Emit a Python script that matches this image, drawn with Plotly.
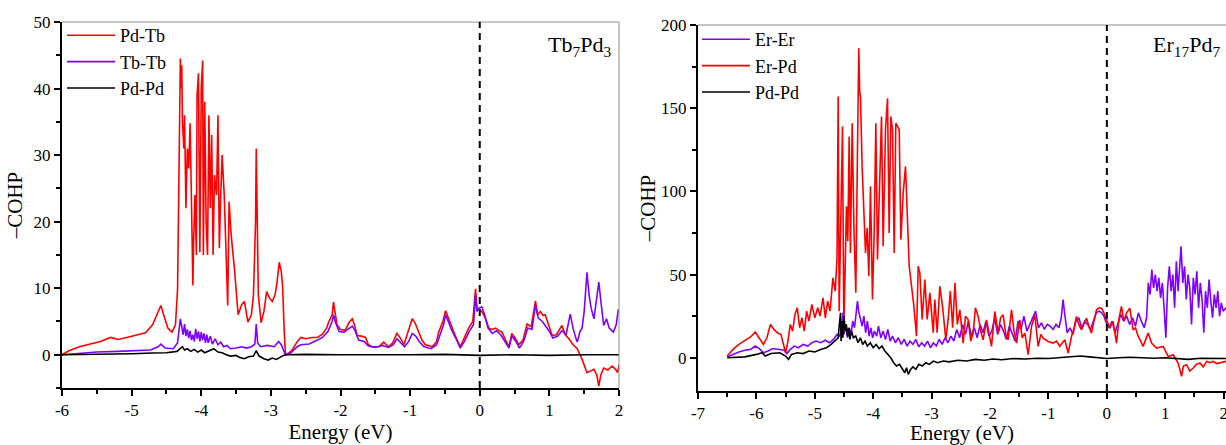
import plotly.graph_objects as go

# ---------------- data: left panel (Tb7Pd3) ----------------
tb_pdtb_x = [-6.00, -5.90, -5.75, -5.60, -5.45, -5.30, -5.20, -5.10, -5.00, -4.90, -4.80, -4.70, -4.62, -4.58, -4.54,
             -4.48, -4.42, -4.37, -4.34, -4.32, -4.30, -4.29, -4.28, -4.27, -4.25, -4.24, -4.22, -4.20, -4.18, -4.16,
             -4.14, -4.12, -4.11, -4.09, -4.07, -4.06, -4.04, -4.02, -4.00, -3.98, -3.97, -3.95, -3.93, -3.91, -3.89,
             -3.87, -3.85, -3.83, -3.81, -3.78, -3.76, -3.74, -3.72, -3.70, -3.67, -3.62, -3.60, -3.57, -3.52, -3.47,
             -3.42, -3.38, -3.33, -3.28, -3.25, -3.22, -3.21, -3.20, -3.18, -3.14, -3.10, -3.06, -3.02, -2.98, -2.94,
             -2.91, -2.88, -2.85, -2.83, -2.81, -2.79, -2.75, -2.70, -2.62, -2.57, -2.50, -2.41, -2.33, -2.26, -2.20,
             -2.17, -2.12, -2.10, -2.08, -2.05, -2.00, -1.93, -1.88, -1.83, -1.80, -1.76, -1.70, -1.64, -1.60, -1.55,
             -1.45, -1.38, -1.31, -1.25, -1.19, -1.14, -1.09, -1.03, -0.97, -0.93, -0.88, -0.83, -0.78, -0.68, -0.62,
             -0.59, -0.53, -0.49, -0.45, -0.40, -0.35, -0.28, -0.22, -0.16, -0.10, -0.06, -0.04, -0.01, 0.03, 0.08,
             0.13, 0.18, 0.23, 0.28, 0.32, 0.37, 0.42, 0.46, 0.51, 0.56, 0.62, 0.68, 0.74, 0.80, 0.83,
             0.87, 0.91, 0.94, 0.99, 1.04, 1.10, 1.18, 1.23, 1.28, 1.34, 1.40, 1.47, 1.51, 1.54, 1.58,
             1.64, 1.68, 1.71, 1.74, 1.78, 1.84, 1.90, 1.95, 1.98, 2.00]
tb_pdtb_y = [0.0, 0.6, 1.2, 1.6, 2.0, 2.6, 2.3, 2.5, 2.8, 3.0, 3.3, 4.5, 6.5, 7.4, 6.0,
             4.0, 3.4, 4.5, 10.0, 30.0, 44.5, 40.0, 43.5, 35.0, 31.0, 36.0, 22.0, 31.0, 28.0, 34.8,
             22.0, 10.4, 17.0, 24.0, 15.0, 39.0, 42.3, 15.4, 40.0, 44.2, 15.0, 38.0, 20.0, 15.0, 36.0,
             22.0, 33.0, 15.0, 27.0, 24.0, 36.0, 16.0, 24.0, 30.0, 24.0, 7.4, 23.0, 18.0, 12.5, 6.0,
             7.5, 8.0, 4.9, 6.0, 9.0, 20.0, 31.0, 20.0, 9.0, 4.8, 6.5, 9.5, 8.5, 8.0, 9.0,
             11.0, 13.9, 12.5, 10.0, 4.0, 0.0, 0.2, 0.6, 2.0, 2.6, 2.4, 2.6, 2.6, 3.1, 4.0,
             4.9, 6.0, 7.9, 6.5, 4.5, 3.8, 3.7, 4.8, 5.4, 4.5, 2.9, 2.8, 2.6, 1.5, 1.2,
             1.2, 1.9, 1.2, 1.8, 3.2, 2.5, 1.5, 3.5, 5.4, 4.8, 3.4, 2.2, 1.5, 1.2, 2.0,
             3.4, 5.0, 6.6, 5.5, 4.0, 2.8, 1.2, 2.5, 4.0, 5.0, 9.9, 7.0, 6.8, 6.5, 5.5,
             4.0, 3.8, 4.0, 3.6, 3.4, 2.2, 1.2, 3.2, 2.5, 1.5, 2.2, 4.6, 4.2, 8.1, 6.0,
             6.5, 5.9, 6.0, 4.5, 2.9, 3.0, 4.4, 3.0, 2.4, 1.5, 0.9, -0.7, -2.0, -2.7, -2.5,
             -2.2, -3.0, -4.7, -3.0, -2.0, -2.3, -1.7, -2.2, -2.7, -1.5]

tb_tbtb_x = [-6.00, -5.80, -5.50, -5.20, -4.90, -4.73, -4.62, -4.58, -4.52, -4.40, -4.34, -4.31, -4.30, -4.28, -4.26,
             -4.24, -4.22, -4.20, -4.18, -4.16, -4.14, -4.12, -4.10, -4.08, -4.06, -4.04, -4.02, -4.00, -3.98, -3.96,
             -3.94, -3.92, -3.90, -3.87, -3.84, -3.80, -3.76, -3.72, -3.68, -3.63, -3.58, -3.50, -3.42, -3.35, -3.28,
             -3.23, -3.21, -3.19, -3.15, -3.05, -2.95, -2.89, -2.85, -2.80, -2.79, -2.72, -2.62, -2.57, -2.45, -2.33,
             -2.26, -2.18, -2.12, -2.10, -2.07, -2.02, -1.95, -1.87, -1.83, -1.79, -1.74, -1.66, -1.60, -1.50, -1.40,
             -1.31, -1.24, -1.19, -1.13, -1.08, -1.02, -0.97, -0.92, -0.87, -0.80, -0.70, -0.62, -0.57, -0.52, -0.49,
             -0.45, -0.40, -0.33, -0.28, -0.22, -0.15, -0.09, -0.06, -0.04, -0.01, 0.03, 0.07, 0.12, 0.18, 0.24,
             0.30, 0.36, 0.42, 0.46, 0.52, 0.57, 0.63, 0.69, 0.75, 0.80, 0.84, 0.90, 0.94, 1.00, 1.05,
             1.12, 1.18, 1.24, 1.30, 1.34, 1.38, 1.40, 1.44, 1.47, 1.50, 1.54, 1.57, 1.60, 1.64, 1.67,
             1.71, 1.74, 1.78, 1.82, 1.86, 1.92, 1.96, 1.99, 2.00]
tb_tbtb_y = [0.0, 0.2, 0.4, 0.5, 0.6, 0.7, 1.2, 1.6, 1.0, 0.9, 1.8, 4.0, 5.4, 4.2, 3.0,
             4.6, 2.8, 3.8, 2.5, 3.6, 2.2, 3.0, 2.0, 3.9, 2.4, 3.5, 2.0, 3.4, 2.2, 3.2,
             1.8, 3.0, 1.8, 2.8, 1.6, 2.4, 1.5, 1.9, 1.2, 1.4, 0.9, 1.0, 1.2, 1.0, 1.2,
             1.6, 4.6, 1.8, 1.2, 1.4, 1.2, 2.0, 1.5, 0.2, 0.0, 0.2, 1.2, 1.5, 1.6, 2.2,
             2.6, 3.5, 5.0, 6.0, 4.8, 3.5, 3.4, 4.0, 4.3, 3.6, 2.2, 2.0, 1.3, 1.1, 1.4,
             1.1, 1.5, 2.4, 1.8, 1.2, 2.0, 3.2, 2.8, 2.0, 1.2, 0.9, 1.5, 3.0, 4.5, 6.0,
             5.0, 3.6, 2.2, 1.0, 2.0, 3.5, 4.5, 8.9, 6.5, 7.0, 7.2, 6.0, 4.0, 3.2, 3.6,
             3.0, 2.0, 1.0, 2.8, 2.0, 1.0, 2.0, 4.0, 3.8, 7.5, 5.5, 5.0, 4.4, 3.5, 2.5,
             2.8, 3.6, 3.0, 6.1, 4.0, 2.5, 1.9, 3.5, 4.0, 6.5, 12.4, 9.0, 7.0, 5.4, 7.5,
             10.9, 8.0, 4.4, 5.4, 4.0, 3.4, 4.5, 6.8, 6.5]

tb_pdpd_x = [-6.00, -5.50, -5.00, -4.70, -4.50, -4.35, -4.30, -4.27, -4.24, -4.20, -4.15, -4.10, -4.05, -4.00, -3.95,
             -3.88, -3.82, -3.76, -3.70, -3.64, -3.58, -3.50, -3.45, -3.38, -3.32, -3.25, -3.21, -3.17, -3.10, -3.04,
             -2.98, -2.92, -2.87, -2.82, -2.78, -2.50, -2.00, -1.50, -1.00, -0.50, 0.00, 0.50, 1.00, 1.50, 2.00]
tb_pdpd_y = [0.0, 0.05, 0.15, 0.25, 0.3, 0.5, 0.9, 1.2, 0.7, 0.9, 0.5, 0.8, 0.4, 0.7, 0.3,
             0.6, 0.9, 0.4, 0.3, 0.0, -0.2, -0.1, -0.4, -0.6, -0.3, -0.2, 0.6, -0.2, -0.6, -0.8,
             -0.5, -0.7, -0.4, -0.1, 0.0, 0.05, 0.0, -0.05, 0.0, 0.05, -0.1, 0.0, -0.1, 0.0, 0.0]

# ---------------- data: right panel (Er17Pd7) ----------------
er_erer_x = [-6.50, -6.40, -6.30, -6.20, -6.10, -6.02, -5.95, -5.88, -5.80, -5.72, -5.62, -5.52, -5.48, -5.42, -5.35,
             -5.28, -5.20, -5.12, -5.05, -4.98, -4.90, -4.82, -4.75, -4.68, -4.62, -4.58, -4.54, -4.52, -4.50, -4.47,
             -4.44, -4.41, -4.38, -4.35, -4.32, -4.29, -4.27, -4.25, -4.22, -4.19, -4.16, -4.13, -4.10, -4.07, -4.04,
             -4.01, -3.98, -3.94, -3.91, -3.87, -3.83, -3.79, -3.75, -3.71, -3.67, -3.62, -3.57, -3.52, -3.47, -3.42,
             -3.37, -3.32, -3.27, -3.22, -3.17, -3.12, -3.07, -3.02, -2.97, -2.92, -2.87, -2.82, -2.77, -2.72, -2.67,
             -2.62, -2.57, -2.52, -2.47, -2.42, -2.37, -2.32, -2.27, -2.22, -2.17, -2.12, -2.07, -2.02, -1.97, -1.92,
             -1.87, -1.82, -1.77, -1.72, -1.67, -1.62, -1.57, -1.52, -1.47, -1.42, -1.37, -1.32, -1.27, -1.22, -1.17,
             -1.12, -1.07, -1.02, -0.97, -0.92, -0.87, -0.82, -0.78, -0.75, -0.72, -0.68, -0.63, -0.58, -0.53, -0.48,
             -0.43, -0.38, -0.33, -0.28, -0.23, -0.18, -0.13, -0.09, -0.05, -0.01, 0.04, 0.09, 0.14, 0.19, 0.24,
             0.29, 0.34, 0.39, 0.44, 0.49, 0.54, 0.59, 0.64, 0.68, 0.71, 0.74, 0.77, 0.80, 0.83, 0.86,
             0.89, 0.92, 0.95, 0.98, 1.01, 1.04, 1.07, 1.10, 1.13, 1.16, 1.19, 1.22, 1.25, 1.27, 1.30,
             1.33, 1.36, 1.39, 1.42, 1.45, 1.48, 1.51, 1.54, 1.57, 1.60, 1.63, 1.66, 1.69, 1.72, 1.75,
             1.78, 1.81, 1.84, 1.87, 1.90, 1.93, 1.96, 1.99, 2.04]
er_erer_y = [0.5, 2.0, 3.5, 4.5, 5.0, 7.0, 5.5, 3.0, 4.0, 5.5, 5.0, 4.5, 2.5, 5.0, 7.0,
             6.0, 8.0, 7.0, 9.0, 10.0, 9.0, 10.5, 9.0, 11.0, 14.0, 13.0, 16.0, 27.0, 14.0, 20.0,
             12.0, 18.0, 14.0, 22.0, 18.0, 27.0, 34.0, 28.0, 24.0, 19.0, 25.0, 15.0, 22.0, 13.0, 18.0,
             12.0, 16.0, 13.0, 19.0, 12.0, 16.0, 11.0, 17.0, 10.0, 13.0, 9.0, 12.0, 8.0, 11.0, 7.0,
             10.0, 8.0, 11.0, 6.5, 9.0, 7.0, 10.0, 6.0, 9.0, 7.0, 11.0, 8.0, 12.0, 9.0, 13.0,
             10.0, 17.0, 12.0, 20.0, 14.0, 22.0, 13.0, 18.0, 12.0, 20.0, 15.0, 22.0, 13.0, 16.0, 24.0,
             14.0, 20.0, 16.0, 11.0, 19.0, 14.0, 10.0, 22.0, 17.0, 25.0, 16.0, 20.0, 24.0, 28.0, 18.0,
             21.0, 17.0, 20.0, 19.0, 17.0, 20.0, 18.0, 24.0, 35.0, 26.0, 15.0, 18.0, 14.0, 22.0, 24.0,
             18.0, 22.0, 20.0, 17.0, 22.0, 27.0, 28.0, 27.0, 25.0, 21.0, 18.0, 22.0, 15.0, 21.0, 26.0,
             22.0, 25.0, 20.0, 24.0, 19.0, 27.0, 22.0, 18.0, 24.0, 45.0, 38.0, 53.0, 42.0, 50.0, 40.0,
             48.0, 36.0, 45.0, 30.0, 12.0, 42.0, 55.0, 40.0, 50.0, 30.0, 58.0, 40.0, 60.0, 67.0, 45.0,
             55.0, 35.0, 50.0, 42.0, 20.0, 48.0, 38.0, 52.0, 30.0, 45.0, 35.0, 15.0, 40.0, 30.0, 47.0,
             34.0, 24.0, 38.0, 30.0, 40.0, 25.0, 33.0, 28.0, 30.0]

er_erpd_x = [-6.50, -6.40, -6.30, -6.20, -6.10, -6.02, -5.95, -5.88, -5.82, -5.76, -5.70, -5.64, -5.58, -5.54, -5.50,
             -5.46, -5.42, -5.38, -5.34, -5.30, -5.26, -5.22, -5.18, -5.14, -5.10, -5.05, -5.00, -4.95, -4.91, -4.86,
             -4.82, -4.78, -4.74, -4.69, -4.65, -4.62, -4.60, -4.583, -4.56, -4.54, -4.526, -4.503, -4.48, -4.458, -4.435,
             -4.412, -4.39, -4.36, -4.33, -4.298, -4.27, -4.255, -4.247, -4.232, -4.218, -4.19, -4.16, -4.132, -4.104, -4.075,
             -4.047, -4.013, -3.984, -3.955, -3.927, -3.898, -3.858, -3.83, -3.79, -3.755, -3.727, -3.698, -3.67, -3.641, -3.613,
             -3.584, -3.555, -3.527, -3.487, -3.447, -3.413, -3.384, -3.344, -3.304, -3.259, -3.23, -3.202, -3.162, -3.116, -3.076,
             -3.03, -2.973, -2.945, -2.905, -2.86, -2.814, -2.757, -2.717, -2.68, -2.64, -2.60, -2.56, -2.517, -2.46, -2.42,
             -2.374, -2.33, -2.289, -2.25, -2.203, -2.16, -2.118, -2.06, -2.02, -1.975, -1.918, -1.86, -1.82, -1.775, -1.73,
             -1.69, -1.632, -1.59, -1.546, -1.49, -1.45, -1.404, -1.347, -1.29, -1.233, -1.176, -1.13, -1.09, -1.005, -0.92,
             -0.86, -0.807, -0.72, -0.662, -0.605, -0.56, -0.52, -0.48, -0.434, -0.39, -0.348, -0.30, -0.263, -0.22, -0.177,
             -0.13, -0.091, -0.05, -0.006, 0.05, 0.107, 0.165, 0.21, 0.25, 0.29, 0.336, 0.393, 0.45, 0.49, 0.537,
             0.58, 0.62, 0.708, 0.765, 0.85, 0.965, 1.05, 1.137, 1.22, 1.28, 1.31, 1.365, 1.42, 1.48, 1.53,
             1.593, 1.65, 1.71, 1.76, 1.82, 1.88, 1.937, 2.04]
er_erpd_y = [1.0, 5.0, 8.0, 10.0, 12.5, 15.5, 12.0, 8.0, 12.0, 20.0, 17.0, 15.0, 14.0, 8.0, 3.0,
             10.0, 20.0, 16.0, 26.0, 30.0, 18.0, 24.0, 16.0, 28.0, 22.0, 32.0, 24.0, 30.0, 25.0, 36.0,
             24.0, 34.0, 28.0, 48.0, 40.0, 60.0, 157.0, 28.0, 66.0, 100.0, 139.0, 17.0, 60.0, 91.0, 70.0,
             133.0, 63.0, 141.0, 78.0, 39.0, 123.0, 165.0, 186.0, 160.0, 157.0, 115.0, 91.0, 63.0, 78.0, 49.0,
             103.0, 35.0, 75.0, 141.0, 59.0, 103.0, 145.0, 67.0, 137.0, 156.0, 75.0, 145.0, 137.0, 63.0, 141.0,
             139.0, 137.0, 71.0, 99.0, 115.0, 75.0, 55.0, 43.0, 31.0, 13.0, 55.0, 51.0, 23.0, 47.0, 23.0,
             39.0, 15.0, 35.0, 15.0, 43.0, 31.0, 11.0, 23.0, 40.0, 18.0, 45.0, 20.0, 28.8, 8.8, 25.0,
             22.8, 10.0, 14.8, 30.0, 24.8, 16.0, 10.8, 22.8, 14.0, 6.8, 27.8, 14.8, 24.0, 25.8, 14.0,
             10.8, 28.8, 16.0, 8.8, 22.8, 12.0, 14.8, 1.8, 18.8, 25.8, 6.8, 14.0, 11.8, 9.8, 8.8,
             10.0, 6.8, 10.8, 2.8, 12.8, 18.0, 24.8, 20.0, 16.8, 20.0, 23.8, 18.0, 14.8, 22.0, 28.8,
             30.0, 29.8, 27.0, 22.8, 17.8, 21.8, 8.8, 24.0, 30.8, 22.0, 26.8, 29.8, 16.8, 18.0, 12.8,
             10.0, 6.8, 14.8, 8.8, 5.8, 6.8, 0.8, 1.8, -3.2, -11.2, -5.0, -4.2, -8.0, -6.2, -4.0,
             -3.2, -5.5, -2.2, -3.0, -2.2, -3.5, -3.2, -2.2]

er_pdpd_x = [-6.50, -6.20, -6.00, -5.90, -5.85, -5.75, -5.60, -5.50, -5.45, -5.40, -5.30, -5.20, -5.10, -5.00, -4.90,
             -4.80, -4.72, -4.65, -4.60, -4.58, -4.56, -4.55, -4.53, -4.52, -4.50, -4.48, -4.46, -4.44, -4.42, -4.40,
             -4.37, -4.34, -4.30, -4.26, -4.22, -4.18, -4.14, -4.10, -4.05, -4.00, -3.95, -3.90, -3.85, -3.80, -3.75,
             -3.70, -3.65, -3.60, -3.55, -3.50, -3.46, -3.43, -3.40, -3.36, -3.32, -3.27, -3.22, -3.16, -3.10, -3.04,
             -2.97, -2.90, -2.80, -2.70, -2.55, -2.40, -2.25, -2.10, -1.95, -1.80, -1.60, -1.40, -1.20, -1.00, -0.80,
             -0.60, -0.45, -0.30, -0.15, 0.00, 0.20, 0.40, 0.60, 0.80, 1.00, 1.20, 1.40, 1.60, 1.80, 2.04]
er_pdpd_y = [0.0, 0.5, 2.0, 3.0, 1.0, 2.5, 3.0, 1.0, -1.0, 2.0, 3.0, 2.5, 4.0, 3.5, 5.0,
             6.0, 8.0, 10.0, 12.0, 20.0, 27.0, 10.0, 22.0, 12.0, 25.0, 16.0, 20.0, 13.0, 18.0, 11.0,
             16.0, 12.0, 13.0, 9.0, 12.0, 8.0, 10.0, 7.0, 9.0, 6.0, 8.0, 5.5, 7.0, 4.0, 2.0,
             0.0, -3.0, -5.0, -4.0, -7.0, -9.0, -6.0, -10.0, -7.0, -5.5, -7.0, -4.0, -5.0, -3.0, -4.0,
             -2.0, -3.0, -2.0, -2.5, -1.5, -2.0, -1.0, -1.5, -0.8, -1.2, -0.5, -0.8, -0.3, -0.5, 0.2,
             0.5, 1.0, 0.5, 0.0, -0.5, 0.0, 0.3, 0.0, -0.3, 0.0, -0.5, -1.0, -0.3, -0.5, -0.5]

# ---------------- ticks / labels ----------------
left_xticks = [-6, -5, -4, -3, -2, -1, 0, 1, 2]
right_xticks = [-7, -6, -5, -4, -3, -2, -1, 0, 1, 2]
left_yticks = [0, 10, 20, 30, 40, 50]
right_yticks = [0, 50, 100, 150, 200]
fermi_level = 0

RED = "#FF0000"
PURPLE = "#7F00FF"
BLACK = "#000000"
SERIF = "Liberation Serif"

fig = go.Figure()
lw = 1.6
fig.add_trace(go.Scatter(x=tb_pdtb_x, y=tb_pdtb_y, name="Pd-Tb", mode="lines",
                         line=dict(color=RED, width=lw), xaxis="x", yaxis="y", legend="legend"))
fig.add_trace(go.Scatter(x=tb_tbtb_x, y=tb_tbtb_y, name="Tb-Tb", mode="lines",
                         line=dict(color=PURPLE, width=lw), xaxis="x", yaxis="y", legend="legend"))
fig.add_trace(go.Scatter(x=tb_pdpd_x, y=tb_pdpd_y, name="Pd-Pd", mode="lines",
                         line=dict(color=BLACK, width=lw), xaxis="x", yaxis="y", legend="legend"))
fig.add_trace(go.Scatter(x=er_erer_x, y=er_erer_y, name="Er-Er", mode="lines",
                         line=dict(color=PURPLE, width=lw), xaxis="x2", yaxis="y2", legend="legend2"))
fig.add_trace(go.Scatter(x=er_erpd_x, y=er_erpd_y, name="Er-Pd", mode="lines",
                         line=dict(color=RED, width=lw), xaxis="x2", yaxis="y2", legend="legend2"))
fig.add_trace(go.Scatter(x=er_pdpd_x, y=er_pdpd_y, name="Pd-Pd", mode="lines",
                         line=dict(color=BLACK, width=lw), xaxis="x2", yaxis="y2", legend="legend2"))

tickfont = dict(family=SERIF, size=17, color="black")
titlefont = dict(family=SERIF, size=21, color="black")


def xax(domain, rng, ticks, anchor):
    return dict(domain=domain, range=rng, anchor=anchor, tickmode="array", tickvals=ticks,
                ticktext=[str(t).replace("\u2212", "-") for t in ticks],
                ticks="outside", ticklen=6, tickwidth=2, tickcolor="black",
                showline=True, linecolor="black", linewidth=2, showgrid=False, zeroline=False,
                minor=dict(ticks="outside", ticklen=4, tickwidth=1.5, tickcolor="black", dtick=0.5, showgrid=False),
                tickfont=tickfont, title=dict(text="Energy (eV)", font=titlefont, standoff=4),
                ticklabeloverflow="allow", automargin=False)


def yax(domain, rng, ticks, minor_dtick, anchor, standoff):
    return dict(domain=domain, range=rng, anchor=anchor, tickmode="array", tickvals=ticks,
                ticktext=[str(t) for t in ticks],
                ticks="outside", ticklen=6, tickwidth=2, tickcolor="black",
                showline=True, linecolor="black", linewidth=2, showgrid=False, zeroline=False,
                minor=dict(ticks="outside", ticklen=4, tickwidth=1.5, tickcolor="black", dtick=minor_dtick,
                           tick0=0, showgrid=False),
                tickfont=tickfont, title=dict(text="\u2013COHP", font=titlefont, standoff=standoff),
                automargin=False)


W, H = 1226, 445
fig.update_layout(
    width=W, height=H, margin=dict(l=0, r=0, t=0, b=0),
    paper_bgcolor="white", plot_bgcolor="white",
    xaxis=xax([62 / W, 619 / W], [-6, 2], left_xticks, "y"),
    yaxis=yax([1 - 388 / H, 1 - 22 / H], [-5, 50], left_yticks, 5, "x", 5),
    xaxis2=xax([698 / W, 1.0], [-7, 2.04], right_xticks, "y2"),
    yaxis2=yax([1 - 391 / H, 1 - 25 / H], [-20, 200], right_yticks, 25, "x2", 0),
    legend=dict(x=62 / W, y=1 - 17 / H, xanchor="left", yanchor="top", bgcolor="rgba(0,0,0,0)",
                font=dict(family=SERIF, size=18, color="black"), tracegroupgap=0, itemwidth=48),
    legend2=dict(x=697 / W, y=1 - 21 / H, xanchor="left", yanchor="top", bgcolor="rgba(0,0,0,0)",
                 font=dict(family=SERIF, size=18, color="black"), tracegroupgap=0, itemwidth=48),
    showlegend=True,
)

# frame (thin grey top/right borders) and Fermi-level dashed line
for xr, yr in (("x", "y"), ("x2", "y2")):
    fig.add_shape(type="line", xref=f"{xr} domain", yref=f"{yr} domain", x0=0, x1=1, y0=1, y1=1,
                  line=dict(color="#8c8c8c", width=1))
    fig.add_shape(type="line", xref=xr, yref=f"{yr} domain", x0=fermi_level, x1=fermi_level, y0=0, y1=1,
                  line=dict(color="black", width=2, dash="7px,5px"))
fig.add_shape(type="line", xref="x domain", yref="y domain", x0=1, x1=1, y0=0, y1=1,
              line=dict(color="#8c8c8c", width=1))

fig.add_annotation(text="Tb<sub>7</sub>Pd<sub>3</sub>", xref="paper", yref="paper", x=613 / W, y=1 - 46 / H,
                   xanchor="right", yanchor="middle", showarrow=False,
                   font=dict(family=SERIF, size=22, color="black"))
fig.add_annotation(text="Er<sub>17</sub>Pd<sub>7</sub>", xref="paper", yref="paper", x=1222 / W, y=1 - 46 / H,
                   xanchor="right", yanchor="middle", showarrow=False,
                   font=dict(family=SERIF, size=22, color="black"))

fig.write_html("out.html", config={"displayModeBar": False},
               post_script="document.body.style.margin='0px';document.body.style.overflow='hidden';")
